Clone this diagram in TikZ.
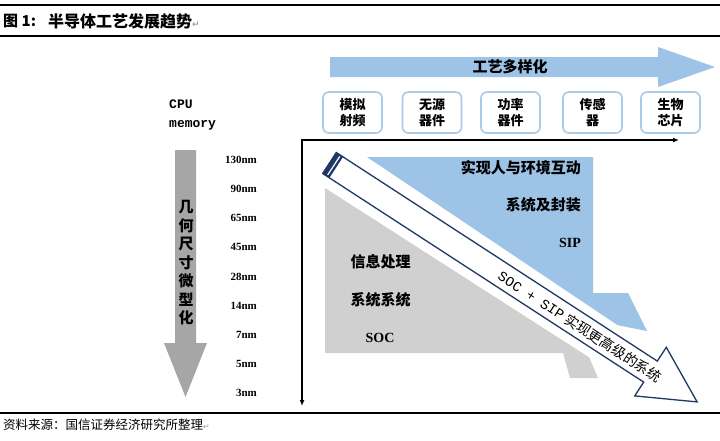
\documentclass[tikz,border=0pt]{standalone}
\usepackage{fontspec}
\setmainfont{Liberation Serif}
\newfontfamily\cjk{Noto Sans CJK SC}
\newfontfamily\symf{DejaVu Sans}
\newfontfamily\monof{Liberation Mono}
\usetikzlibrary{arrows.meta}
\definecolor{lblue}{HTML}{9DC3E6}
\definecolor{bblue}{HTML}{A9CBEA}
\definecolor{lgray}{HTML}{D0D0D0}
\definecolor{dgray}{HTML}{A6A6A6}
\definecolor{navy}{HTML}{1F3864}
\definecolor{pmark}{HTML}{A0A0A0}
\begin{document}
\begin{tikzpicture}[x=1pt,y=-1pt,
  rule/.style={line width=1.3pt,black},
  catbox/.style={draw=bblue,line width=1.6pt,rounded corners=6pt,fill=white,
    minimum width=59pt,minimum height=41pt,inner sep=0pt,align=center,
    font=\cjk\bfseries\fontsize{13}{15.5}\selectfont},
  axisline/.style={line width=1.5pt,black},
  vtext/.style={font=\cjk\bfseries\fontsize{15}{15}\selectfont,inner sep=0pt},
  nmlab/.style={font=\bfseries\fontsize{11}{11}\selectfont,anchor=east,inner sep=0pt},
  cjklab/.style={font=\cjk\bfseries\fontsize{15}{15}\selectfont,inner sep=0pt},
  latlab/.style={font=\bfseries\fontsize{14}{14}\selectfont,inner sep=0pt},
  pm/.style={}]
\useasboundingbox (0,0) rectangle (720,440);
\fill[white] (0,0) rectangle (720,440);
% rules
\draw[rule] (0,5) -- (720,5);
\draw[rule] (0,36) -- (720,36);
\draw[rule] (0,413) -- (720,413);
% title
\node[anchor=west,inner sep=0pt,font=\cjk\bfseries\fontsize{15}{15}\selectfont] (t1) at (3,21) {图 1:};
\node[anchor=west,inner sep=0pt,font=\cjk\bfseries\fontsize{16}{16}\selectfont] (t2) at (48,21) {半导体工艺发展趋势{\symf\fontsize{9}{9}\selectfont\color{pmark}↵}};
% big top arrow
\fill[lblue] (330,57) -- (658,57) -- (658,47) -- (715,67) -- (658,87) -- (658,77) -- (330,77) -- cycle;
\node[font=\cjk\bfseries\fontsize{15}{15}\selectfont,inner sep=0pt] (arrtext) at (510,67) {工艺多样化};
% category boxes
\node[catbox] (b1) at (352.5,112.5) {模拟\\射频};
\node[catbox] (b2) at (432,112.5) {无源\\器件};
\node[catbox] (b3) at (510.5,112.5) {功率\\器件};
\node[catbox] (b4) at (592.5,112.5) {传感\\器};
\node[catbox] (b5) at (670.5,112.5) {生物\\芯片};
% left gray arrow
\fill[dgray] (175,150) -- (196,150) -- (196,343) -- (207,343) -- (185.5,397) -- (164,343) -- (175,343) -- cycle;
\foreach \c [count=\i] in {几,何,尺,寸,微,型,化}
  \node[vtext] (v\i) at (186,{207+(\i-1)*18.5}) {\c};
% CPU memory
\node[anchor=west,inner sep=0pt,font=\monof\bfseries\fontsize{13}{13}\selectfont] (cpu) at (169,104) {CPU};
\node[anchor=west,inner sep=0pt,font=\monof\bfseries\fontsize{13}{13}\selectfont] (mem) at (169,125) {memory};
% nm labels
\foreach \t [count=\i] in {130nm,90nm,65nm,45nm,28nm,14nm,7nm,5nm,3nm}
  \node[nmlab] (nm\i) at (257,{160+(\i-1)*29.1}) {\t};
% gray SOC region
\fill[lgray] (325,188) -- (325,353) -- (563,353) -- (570,378) -- (598,378) -- (589.2,357.4) -- cycle;
% blue SIP region
\fill[lblue] (367,157) -- (593,157) -- (593,293) -- (628,293) -- (647,331) -- (617.5,325.1) -- cycle;
% white band arrow
\draw[navy,line width=1.3pt,fill=white,line join=miter] (336.3,152.5) -- (657.3,361.1) -- (666.3,347.3) -- (697.1,401.9) -- (634.7,395.9) -- (643.7,382.1) -- (322.7,173.5) -- cycle;
\fill[navy] (336.3,152.5) -- (343.0,156.9) -- (329.4,177.9) -- (322.7,173.5) -- cycle;
\draw[white,line width=1.2pt] (339.7,156.5) -- (327.7,174.9);
\node[rotate=-33,inner sep=0pt,font=\fontsize{14}{14}\selectfont] (bandtext) at (580,326.5) {{\monof SOC + SIP} {\cjk 实现更高级的系统}};
% region texts
\node[cjklab,anchor=east] (s1) at (581,168) {实现人与环境互动};
\node[cjklab,anchor=east] (s2) at (581,205) {系统及封装};
\node[latlab,anchor=east] (s3) at (581,243) {SIP};
\node[cjklab] (g1) at (380.5,262) {信息处理};
\node[cjklab] (g2) at (380.5,300) {系统系统};
\node[latlab] (g3) at (380,338) {SOC};
% axes
\coordinate (O) at (302,140);
\coordinate (X) at (679,140);
\coordinate (Y) at (302,406);
\draw[axisline,{Latex[length=6pt,width=5pt]}-{Latex[length=6pt,width=5pt]}] (X) -- (O) -- (Y);
% source
\node[anchor=west,inner sep=0pt,font=\cjk\fontsize{12.5}{12.5}\selectfont] (src) at (3,425) {资料来源：国信证券经济研究所整理{\symf\fontsize{8}{8}\selectfont\color{pmark}↵}};
\end{tikzpicture}
\end{document}
